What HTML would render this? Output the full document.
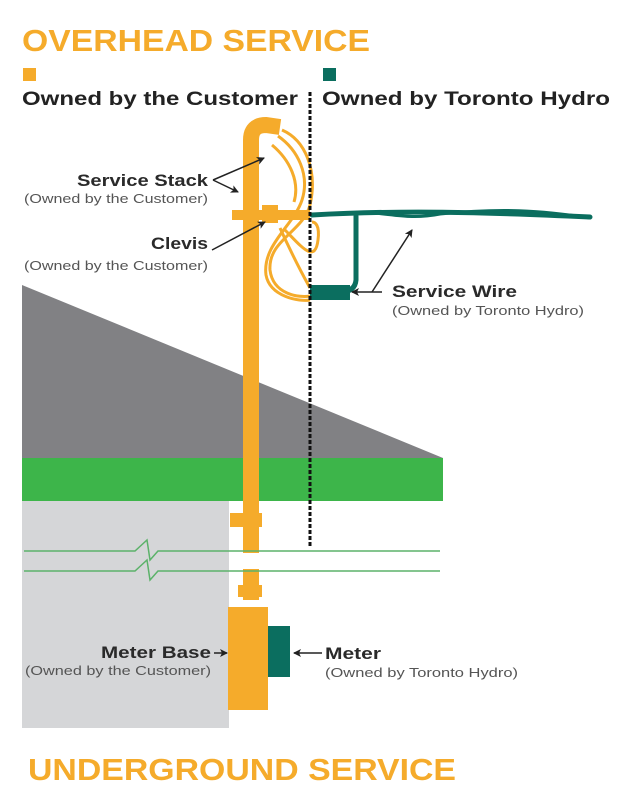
<!DOCTYPE html>
<html><head><style>body{margin:0;background:#fff}svg{display:block}</style></head>
<body>
<svg width="620" height="793" viewBox="0 0 620 793" xmlns="http://www.w3.org/2000/svg" font-family="Liberation Sans, sans-serif">
<defs><marker id="a" markerWidth="8" markerHeight="8" refX="7" refY="4" orient="auto" markerUnits="userSpaceOnUse"><path d="M0,0 L8,4 L0,8 L2,4z" fill="#222"/></marker></defs>
<text x="22" y="51" font-size="31" font-weight="bold" fill="#f5ab2b" textLength="348" lengthAdjust="spacingAndGlyphs">OVERHEAD SERVICE</text>
<rect x="23" y="68" width="13" height="13" fill="#f5ab2b"/>
<rect x="323" y="68" width="13" height="13" fill="#0b6e5f"/>
<text x="22" y="105" font-size="19" font-weight="bold" fill="#222" textLength="276" lengthAdjust="spacingAndGlyphs">Owned by the Customer</text>
<text x="322" y="105" font-size="19" font-weight="bold" fill="#222" textLength="288" lengthAdjust="spacingAndGlyphs">Owned by Toronto Hydro</text>
<!-- house -->
<polygon points="22,285 443,458 22,458" fill="#818184"/>
<rect x="22" y="458" width="421" height="43" fill="#3db54a"/>
<rect x="22" y="501" width="207" height="227" fill="#d5d6d8"/>
<!-- pole -->
<path d="M251,600 L251,140 Q251,125 266,125 L280,127" stroke="#f5ab2b" stroke-width="16" fill="none"/>
<rect x="232" y="210" width="78" height="10" fill="#f5ab2b"/>
<rect x="262" y="205" width="16" height="18" fill="#f5ab2b"/>
<rect x="230" y="513" width="32" height="14" fill="#f5ab2b"/>
<rect x="238" y="585" width="24" height="12" fill="#f5ab2b"/>
<rect x="240" y="553" width="24" height="16" fill="#fff"/>
<rect x="228" y="607" width="40" height="103" fill="#f5ab2b"/>
<rect x="268" y="626" width="22" height="51" fill="#0b6e5f"/>
<!-- orange loops -->
<g stroke="#f5ab2b" stroke-width="3" fill="none">
<path d="M282,130 C305,140 318,170 310,205 C303,232 268,240 270,270 C273,295 300,298 310,296"/>
<path d="M278,136 C298,150 310,175 302,200 C294,225 262,245 266,275 C270,297 300,302 310,300"/>
<path d="M272,145 C290,160 300,182 294,202 M280,228 C290,250 300,270 310,288"/>
<path d="M285,230 C300,245 315,265 318,240 C320,225 315,222 312,222"/>
</g>
<!-- teal wire -->
<g stroke="#0b6e5f" fill="none" stroke-linecap="round">
<path d="M312,215 C400,210 480,212 590,217" stroke-width="5"/>
<path d="M340,214 C380,208 400,222 440,214 C500,208 540,210 590,218" stroke-width="3"/>
<path d="M356,216 L356,280 Q355,292 340,292 L312,292" stroke-width="5"/>
</g>
<rect x="310" y="285" width="40" height="15" fill="#0b6e5f"/>
<!-- dotted line -->
<line x1="310" y1="92" x2="310" y2="548" stroke="#111" stroke-width="3" stroke-dasharray="4,2"/>
<!-- green lines -->
<g stroke="#5cb26a" stroke-width="1.5" fill="none">
<path d="M24,551 L135,551 L147,540 L150,560 L158,551 L440,551"/>
<path d="M24,571 L135,571 L147,560 L150,580 L158,571 L440,571"/>
</g>
<!-- arrows -->
<g stroke="#222" stroke-width="1.5" fill="none" marker-end="url(#a)">
<line x1="213" y1="180" x2="264" y2="158"/>
<line x1="213" y1="180" x2="238" y2="192"/>
<line x1="212" y1="250" x2="265" y2="222"/>
<line x1="372" y1="292" x2="412" y2="230"/>
<line x1="382" y1="292" x2="352" y2="292"/>
<line x1="214" y1="653" x2="227" y2="653"/>
<line x1="322" y1="653" x2="294" y2="653"/>
</g>
<!-- labels -->
<g fill="#2a2a2a" font-weight="bold" font-size="17">
<text x="77" y="186" textLength="131" lengthAdjust="spacingAndGlyphs">Service Stack</text>
<text x="151" y="249" textLength="57" lengthAdjust="spacingAndGlyphs">Clevis</text>
<text x="392" y="297" textLength="125" lengthAdjust="spacingAndGlyphs">Service Wire</text>
<text x="101" y="658" textLength="110" lengthAdjust="spacingAndGlyphs">Meter Base</text>
<text x="325" y="659" textLength="56" lengthAdjust="spacingAndGlyphs">Meter</text>
</g>
<g fill="#555" font-size="13">
<text x="24" y="203" textLength="184" lengthAdjust="spacingAndGlyphs">(Owned by the Customer)</text>
<text x="24" y="270" textLength="184" lengthAdjust="spacingAndGlyphs">(Owned by the Customer)</text>
<text x="392" y="315" textLength="192" lengthAdjust="spacingAndGlyphs">(Owned by Toronto Hydro)</text>
<text x="25" y="675" textLength="186" lengthAdjust="spacingAndGlyphs">(Owned by the Customer)</text>
<text x="325" y="677" textLength="193" lengthAdjust="spacingAndGlyphs">(Owned by Toronto Hydro)</text>
</g>
<text x="28" y="780" font-size="31" font-weight="bold" fill="#f5ab2b" textLength="428" lengthAdjust="spacingAndGlyphs">UNDERGROUND SERVICE</text>
</svg>
</body></html>
